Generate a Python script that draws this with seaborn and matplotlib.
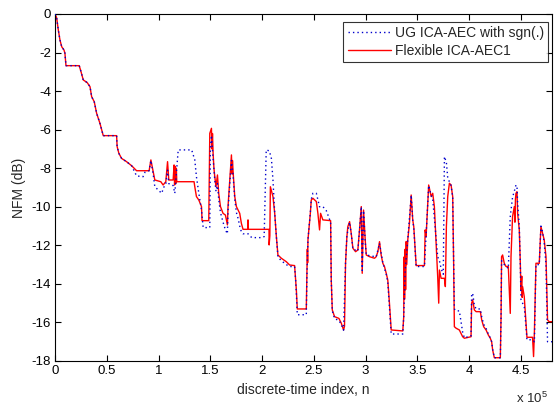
import numpy as np
import pandas as pd
import matplotlib
matplotlib.use("Agg")
import matplotlib.pyplot as plt
import seaborn as sns
from matplotlib.ticker import FuncFormatter

# ---- data (x in units of 1e5 samples, NFM in dB) ----
flex_n = [0, 0.016, 0.032, 0.048, 0.065, 0.087, 0.096, 0.106, 0.234, 0.251, 0.273, 0.311,
          0.338, 0.354, 0.379, 0.402, 0.434, 0.466, 0.595, 0.600, 0.617, 0.643, 0.691, 0.740,
          0.788, 0.909, 0.926, 0.948, 0.964, 1.022, 1.044, 1.070, 1.087, 1.099, 1.141,
          1.150, 1.155, 1.160, 1.166, 1.172, 1.176, 1.196, 1.343, 1.350, 1.366, 1.389, 1.415,
          1.420, 1.485, 1.495, 1.511, 1.516, 1.521, 1.527, 1.535, 1.543, 1.555, 1.569, 1.581,
          1.598, 1.623, 1.646, 1.665, 1.671, 1.688, 1.704, 1.710, 1.714, 1.719, 1.736, 1.752,
          1.768, 1.784, 1.800, 1.816, 1.862, 1.864, 1.868, 2.067, 2.068, 2.075, 2.080, 2.105,
          2.122, 2.138, 2.153, 2.186, 2.234, 2.266, 2.314, 2.324, 2.331, 2.340, 2.427, 2.433,
          2.437, 2.440, 2.443, 2.452, 2.466, 2.475, 2.491, 2.524, 2.539, 2.555, 2.565, 2.587,
          2.662, 2.668, 2.678, 2.700, 2.742, 2.765, 2.787, 2.796, 2.806, 2.819, 2.828, 2.845,
          2.861, 2.877, 2.903, 2.925, 2.941, 2.958, 2.967, 2.980, 2.996, 3.006, 3.038, 3.086,
          3.102, 3.118, 3.134, 3.150, 3.166, 3.182, 3.199, 3.214, 3.230, 3.247, 3.359, 3.368,
          3.372, 3.376, 3.382, 3.386, 3.392, 3.397, 3.407, 3.423, 3.440, 3.455, 3.465, 3.488,
          3.568, 3.575, 3.584, 3.609, 3.633, 3.648, 3.664, 3.681, 3.696, 3.706, 3.713, 3.729,
          3.761, 3.770, 3.780, 3.793, 3.809, 3.825, 3.841, 3.850, 3.857, 3.874, 3.905, 3.937,
          3.954, 4.018, 4.024, 4.034, 4.050, 4.067, 4.108, 4.121, 4.140, 4.163, 4.185, 4.204,
          4.217, 4.227, 4.243, 4.301, 4.308, 4.313, 4.323, 4.339, 4.356, 4.378, 4.397, 4.404,
          4.419, 4.436, 4.442, 4.447, 4.452, 4.462, 4.468, 4.484, 4.494, 4.500, 4.508, 4.512,
          4.516, 4.532, 4.549, 4.558, 4.612, 4.622, 4.630, 4.645, 4.677, 4.693, 4.709, 4.725,
          4.742, 4.757, 4.773, 4.800]
flex_nfm = [0, -0.20, -0.83, -1.35, -1.70, -1.87, -2.04, -2.68, -2.68, -2.99, -3.42, -3.56,
            -3.77, -4.29, -4.55, -5.15, -5.67, -6.31, -6.31, -6.88, -7.23, -7.49, -7.66, -7.87,
            -8.13, -8.13, -7.57, -8.18, -8.61, -8.70, -8.87, -8.70, -7.66, -8.61, -8.61,
            -7.83, -8.87, -7.90, -8.80, -8.00, -8.70, -8.70, -8.70, -8.96, -9.47, -9.65, -9.99,
            -10.72, -10.72, -6.19, -5.93, -7.00, -6.20, -7.23, -8.00, -8.44, -8.96, -8.35, -9.30,
            -9.99, -10.34, -10.43, -10.94, -9.99, -8.61, -7.31, -8.30, -7.60, -8.09, -9.47, -9.99,
            -10.17, -10.34, -10.86, -11.17, -11.17, -10.68, -11.17, -11.17, -11.98, -11.50, -8.96, -9.47,
            -10.34, -11.55, -12.50, -12.67, -12.85, -13.02, -13.05, -13.80, -14.32, -15.30, -15.30, -13.62,
            -12.20, -12.90, -11.72, -11.20, -10.34, -9.65, -9.56, -9.73, -10.34, -11.20, -10.34, -10.68,
            -10.72, -13.80, -15.35, -15.70, -15.79, -16.04, -16.39, -16.20, -12.93, -11.55, -11.03, -10.77,
            -11.38, -12.15, -12.33, -12.24, -11.20, -9.99, -13.45, -10.17, -11.72, -12.50, -12.59, -12.67,
            -12.59, -12.33, -11.81, -12.50, -12.93, -13.10, -13.45, -13.80, -15.00, -16.39, -16.44, -15.70,
            -12.60, -14.80, -12.20, -14.30, -11.80, -13.00, -11.72, -10.86, -9.39, -10.68, -11.03, -13.05,
            -13.05, -11.20, -11.55, -8.87, -9.47, -9.30, -9.99, -11.89, -13.62, -15.00, -13.28, -13.71,
            -13.71, -14.14, -11.03, -9.47, -8.78, -8.87, -9.47, -12.93, -16.22, -16.30, -16.39, -16.74,
            -16.82, -16.74, -15.00, -14.83, -15.35, -15.44, -15.44, -15.87, -16.22, -16.39, -16.65, -16.82,
            -17.00, -17.43, -17.83, -17.83, -15.70, -12.59, -12.50, -12.93, -13.10, -13.10, -15.53, -12.59,
            -10.51, -9.99, -10.80, -9.60, -9.30, -9.22, -10.34, -11.20, -12.93, -14.32, -13.60, -14.70,
            -14.14, -14.66, -16.04, -16.77, -16.77, -17.77, -16.50, -12.93, -12.93, -11.03, -11.38, -11.72,
            -12.59, -15.87, -15.96, -15.96]

ug_n = [0, 0.016, 0.032, 0.048, 0.065, 0.087, 0.096, 0.106, 0.234, 0.251, 0.273, 0.311,
        0.338, 0.354, 0.379, 0.402, 0.434, 0.466, 0.595, 0.600, 0.617, 0.643, 0.691, 0.740,
        0.788, 0.850, 0.870, 0.909, 0.926, 0.948, 0.964, 1.030, 1.050, 1.070, 1.087, 1.099,
        1.141, 1.157, 1.176, 1.190, 1.320, 1.350, 1.366, 1.389, 1.415, 1.431, 1.495, 1.500,
        1.511, 1.527, 1.543, 1.555, 1.569, 1.581, 1.598, 1.623, 1.646, 1.665, 1.671, 1.688,
        1.704, 1.719, 1.736, 1.752, 1.768, 1.784, 1.800, 1.816, 1.864, 1.900, 2.000, 2.020,
        2.040, 2.070, 2.090, 2.105, 2.122, 2.138, 2.153, 2.186, 2.234, 2.266, 2.314, 2.324,
        2.331, 2.340, 2.427, 2.433, 2.443, 2.466, 2.475, 2.491, 2.524, 2.555, 2.587, 2.620,
        2.662, 2.668, 2.678, 2.700, 2.742, 2.765, 2.787, 2.806, 2.819, 2.845, 2.861, 2.877,
        2.925, 2.941, 2.958, 2.967, 2.980, 2.996, 3.006, 3.102, 3.134, 3.166, 3.199, 3.214,
        3.230, 3.247, 3.359, 3.368, 3.382, 3.407, 3.440, 3.455, 3.465, 3.488, 3.568, 3.584,
        3.609, 3.633, 3.648, 3.664, 3.681, 3.696, 3.713, 3.729, 3.750, 3.761, 3.780, 3.793,
        3.809, 3.825, 3.841, 3.850, 3.857, 3.874, 3.905, 3.937, 3.954, 4.018, 4.024, 4.034,
        4.050, 4.067, 4.108, 4.121, 4.140, 4.163, 4.185, 4.204, 4.217, 4.227, 4.243, 4.301,
        4.308, 4.313, 4.339, 4.378, 4.397, 4.419, 4.436, 4.452, 4.462, 4.468, 4.484, 4.494,
        4.500, 4.516, 4.532, 4.549, 4.558, 4.612, 4.630, 4.645, 4.677, 4.693, 4.709, 4.725,
        4.742, 4.757, 4.800]
ug_nfm = [0, -0.20, -0.83, -1.35, -1.70, -1.87, -2.04, -2.68, -2.68, -2.99, -3.42, -3.56,
          -3.77, -4.29, -4.55, -5.15, -5.67, -6.31, -6.31, -6.88, -7.23, -7.49, -7.66, -7.87,
          -8.40, -8.44, -8.20, -8.13, -7.60, -8.30, -8.96, -9.30, -9.00, -8.80, -8.10, -8.80,
          -8.90, -9.30, -8.00, -7.05, -7.05, -7.57, -8.44, -9.30, -10.17, -11.08, -11.08, -7.00,
          -6.30, -7.50, -8.60, -9.20, -8.80, -9.60, -10.30, -10.80, -11.20, -11.40, -10.20, -8.80,
          -7.60, -8.30, -9.60, -10.30, -10.60, -11.00, -11.30, -11.40, -11.40, -11.60, -11.60, -11.55,
          -7.05, -7.10, -7.50, -8.60, -10.34, -11.55, -12.60, -12.80, -13.00, -13.10, -13.10, -13.80,
          -14.50, -15.60, -15.60, -13.60, -11.70, -10.30, -9.60, -9.30, -9.30, -10.00, -9.99, -10.20,
          -10.80, -13.80, -15.40, -15.80, -15.90, -16.10, -16.40, -12.90, -11.50, -10.80, -11.40, -12.20,
          -12.30, -11.20, -10.00, -13.30, -10.20, -11.80, -12.50, -12.60, -11.90, -12.90, -13.50, -13.90,
          -15.20, -16.60, -16.60, -15.70, -13.30, -11.70, -9.40, -10.70, -11.10, -13.10, -13.10, -11.50,
          -8.90, -9.40, -9.60, -10.60, -11.60, -12.60, -12.80, -13.20, -13.50, -7.40, -7.70, -8.50,
          -8.70, -8.90, -9.50, -12.90, -15.30, -15.40, -15.40, -16.50, -16.80, -16.70, -14.50, -14.50,
          -15.10, -15.30, -15.30, -15.70, -16.10, -16.30, -16.60, -16.80, -17.00, -17.40, -17.83, -17.83,
          -15.70, -12.80, -13.00, -13.20, -10.50, -9.50, -9.20, -8.87, -8.96, -9.80, -11.00, -13.00,
          -14.80, -15.00, -15.20, -16.20, -16.90, -16.90, -17.00, -13.00, -13.00, -11.00, -11.30, -11.90,
          -13.00, -17.00, -17.00]

xticks_e5 = [0, 0.5, 1, 1.5, 2, 2.5, 3, 3.5, 4, 4.5]
yticks = [0, -2, -4, -6, -8, -10, -12, -14, -16, -18]
series_labels = ["UG ICA-AEC with sgn(.)", "Flexible ICA-AEC1"]

ug = pd.DataFrame({"n": np.array(ug_n) * 1e5, "NFM": ug_nfm})
flex = pd.DataFrame({"n": np.array(flex_n) * 1e5, "NFM": flex_nfm})

sns.set_style("white")
plt.rcParams["font.family"] = ["Liberation Sans", "DejaVu Sans"]
plt.rcParams["font.size"] = 9.5
plt.rcParams["axes.unicode_minus"] = False

fig = plt.figure(figsize=(5.54, 4.05), dpi=100)
ax = fig.add_axes([55 / 554, 1 - 361 / 405, 497 / 554, 347 / 405])

sns.lineplot(data=flex, x="n", y="NFM", sort=False, estimator=None, ax=ax,
             color="#ff0000", linewidth=1.0, label=series_labels[1], zorder=2)
sns.lineplot(data=ug, x="n", y="NFM", sort=False, estimator=None, ax=ax,
             color="#0000cc", linewidth=1.0, linestyle=(0, (1, 2.2)),
             label=series_labels[0], zorder=3)

ax.set_xlim(0, 4.8e5)
ax.set_ylim(-18, 0)
ax.set_xticks(np.array(xticks_e5) * 1e5)
ax.set_yticks(yticks)
ax.xaxis.set_major_formatter(FuncFormatter(lambda v, p: f"{v / 1e5:g}"))
ax.yaxis.set_major_formatter(FuncFormatter(lambda v, p: f"{v:g}"))
fig.text(548 / 554, 1 - 398 / 405, r"x 10$^{\mathregular{5}}$", ha="right", va="center",
         fontsize=9.5)

ax.set_xlabel("discrete-time index, n", fontsize=10, labelpad=4)
ax.set_ylabel("NFM (dB)", fontsize=10, labelpad=4)

for s in ax.spines.values():
    s.set_visible(True)
    s.set_color("black")
    s.set_linewidth(0.8)
ax.tick_params(direction="in", length=4, width=0.8, top=True, right=True,
               bottom=True, left=True, labelsize=9.5, colors="black", pad=3)

handles, labels = ax.get_legend_handles_labels()
order = [labels.index(series_labels[0]), labels.index(series_labels[1])]
leg = ax.legend([handles[i] for i in order], [labels[i] for i in order],
                loc="upper right", bbox_to_anchor=(0.992, 0.977), borderaxespad=0,
                frameon=True, fancybox=False, fontsize=10, handlelength=3.1,
                handletextpad=0.3, borderpad=0.3, labelspacing=0.3)
leg.get_frame().set_edgecolor("black")
leg.get_frame().set_linewidth(0.8)

fig.savefig("out.png", dpi=100)
